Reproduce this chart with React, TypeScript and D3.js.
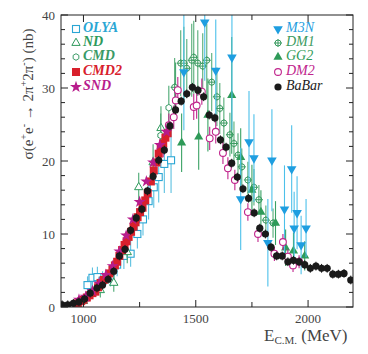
import * as d3 from "d3";

// --- data (E in MeV, sigma in nb) ---
const olyaE = [1018, 1040, 1062, 1085, 1120, 1150, 1180, 1210, 1240, 1265, 1290, 1313, 1335, 1360, 1390];
const olyaS = [3.0, 4.0, 4.1, 3.6, 4.3, 5.8, 7.0, 7.3, 10.0, 12.0, 14.5, 16.4, 17.8, 19.6, 20.1];
const olyaErr = [1.2, 1.4, 1.4, 1.3, 1.5, 1.6, 1.8, 1.8, 2.0, 2.2, 2.5, 2.8, 3.5, 4.0, 4.5];

const ndE = [1000, 1075, 1135, 1195, 1246, 1310, 1345];
const ndS = [0.8, 2.3, 3.3, 7.5, 16.4, 19.8, 24.5];
const ndErr = [0.6, 1.0, 1.2, 1.5, 2.0, 2.5, 3.0];

const cmdE = [1344, 1380, 1410];
const cmdS = [23.5, 27.3, 30.0];
const cmdErr = [3.0, 3.0, 3.5];

const cmd2E = [975, 990, 1000, 1015, 1027, 1040, 1053, 1065, 1076, 1090, 1103, 1115, 1129, 1140, 1150, 1160, 1172, 1183, 1192, 1201, 1212, 1223, 1232, 1241, 1252, 1263, 1275, 1286, 1300, 1313, 1325, 1335, 1344, 1355, 1365, 1375];
const cmd2S = [0.5, 0.8, 1.0, 1.3, 1.6, 1.9, 2.1, 2.7, 3.3, 3.7, 4.1, 4.6, 5.1, 5.7, 6.2, 7.0, 7.8, 8.5, 9.0, 9.6, 10.3, 11.0, 11.6, 12.3, 13.0, 13.6, 14.6, 15.6, 17.2, 18.7, 19.8, 21.0, 21.8, 22.4, 23.2, 23.8];

const sndE = [980, 1010, 1040, 1070, 1100, 1130, 1160, 1190, 1220, 1250, 1280, 1310, 1340, 1370];
const sndS = [1.0, 1.4, 2.2, 3.2, 4.4, 5.6, 7.6, 9.8, 12.0, 14.4, 17.2, 19.8, 22.2, 24.0];

const m3nE = [1447, 1540, 1589, 1661, 1700, 1737, 1759, 1821, 1839, 1895, 1927, 1938, 1951, 1969, 1991];
const m3nS = [32.2, 39.0, 32.4, 34.2, 14.8, 22.6, 20.4, 8.8, 20.1, 13.4, 18.9, 10.8, 12.9, 8.5, 10.8];
const m3nErr = [8, 8, 7, 10, 7, 7, 6, 6, 7, 6, 6, 5, 5, 4, 4];

const dm1E = [1406, 1433, 1447, 1460, 1482, 1491, 1509, 1531, 1549, 1571, 1594, 1607, 1625, 1652, 1670, 1688, 1705, 1732, 1759, 1781, 1812, 1844];
const dm1S = [30.1, 33.4, 33.4, 32.7, 33.8, 34.2, 33.4, 33.0, 33.8, 30.8, 28.8, 27.2, 25.2, 23.6, 22.4, 20.8, 19.2, 17.4, 16.4, 14.7, 11.9, 11.5];
const dm1Err = [4, 4.5, 5, 4, 5, 5, 4.5, 4.5, 5, 4, 4, 3.5, 3.5, 3, 3, 3, 2.5, 2.5, 2.5, 2, 2, 2];

const gg2E = [1437, 1513, 1554, 1660, 1700, 1750, 1790, 1855, 1900, 1935, 1985];
const gg2S = [22.5, 23.3, 26.3, 29.0, 20.5, 16.0, 13.0, 11.5, 8.1, 7.7, 7.0];
const gg2Err = [4, 4.5, 5, 8, 4, 3.5, 3, 3, 2.5, 2.5, 2];

const dm2E = [1355, 1380, 1402, 1411, 1420, 1491, 1504, 1527, 1562, 1589, 1621, 1643, 1674, 1732, 1777, 1850, 1888, 1910, 1933, 1960];
const dm2S = [22.0, 24.9, 26.0, 28.3, 29.7, 27.4, 27.6, 29.5, 23.1, 24.0, 21.1, 19.0, 17.4, 13.0, 10.0, 7.3, 8.9, 6.9, 5.7, 6.2];
const dm2Err = [1.5, 1.6, 1.6, 1.7, 1.8, 1.8, 1.8, 1.8, 1.6, 1.6, 1.5, 1.5, 1.4, 1.2, 1.1, 1.0, 1.1, 1.0, 0.9, 0.9];

const babarE = [905, 930, 955, 980, 1005, 1030, 1060, 1085, 1110, 1135, 1160, 1185, 1210, 1235, 1260, 1285, 1310, 1335, 1360, 1385, 1410, 1435, 1460, 1485, 1510, 1535, 1560, 1585, 1610, 1635, 1660, 1685, 1710, 1735, 1760, 1785, 1810, 1835, 1860, 1885, 1910, 1935, 1960, 1985, 2010, 2035, 2060, 2085, 2110, 2135, 2160, 2190];
const babarS = [0.3, 0.3, 0.5, 0.7, 1.1, 1.9, 2.6, 3.0, 3.8, 4.9, 7.0, 7.9, 10.5, 12.2, 13.4, 15.9, 17.9, 20.1, 21.5, 24.8, 27.0, 28.2, 29.2, 30.1, 29.7, 28.8, 26.3, 25.9, 22.9, 21.9, 19.7, 17.8, 16.2, 14.9, 12.9, 10.8, 10.0, 8.2, 7.0, 7.0, 6.2, 6.4, 6.2, 5.8, 5.3, 5.6, 5.3, 5.3, 4.5, 4.5, 4.6, 3.7];

const xTicks = [1000, 1250, 1500, 1750, 2000];
const xLabels = [1000, 1500, 2000];
const yLabels = [0, 10, 20, 30, 40];

const x = d3.scaleLinear().domain([900, 2200]).range([61, 353]);
const y = d3.scaleLinear().domain([0, 40]).range([307, 15]);

const serif = "Liberation Serif, DejaVu Serif, serif";

type Kind = "square" | "triUp" | "hex" | "fillSquare" | "star" | "triDown" | "circCross" | "fillTri" | "circle" | "dot";

function Marker({ kind, cx, cy, color }: { kind: Kind; cx: number; cy: number; color: string }) {
  const t = `translate(${cx},${cy})`;
  switch (kind) {
    case "square":
      return <rect x={cx - 3.5} y={cy - 3.5} width={7} height={7} fill="white" stroke={color} strokeWidth={1.1} />;
    case "fillSquare":
      return <rect x={cx - 4} y={cy - 4} width={8} height={8} fill={color} />;
    case "triUp":
      return <path transform={t} d={d3.symbol(d3.symbolTriangle, 30)()!} fill="white" stroke={color} strokeWidth={1} />;
    case "fillTri":
      return <path transform={t} d={d3.symbol(d3.symbolTriangle, 36)()!} fill={color} />;
    case "triDown":
      return <path transform={`${t} rotate(180)`} d={d3.symbol(d3.symbolTriangle, 40)()!} fill={color} />;
    case "star":
      return <path transform={t} d={d3.symbol(d3.symbolStar, 45)()!} fill={color} />;
    case "hex": {
      const pts = d3.range(6).map((i) => {
        const a = (Math.PI / 3) * i + Math.PI / 6;
        return `${3.3 * Math.cos(a)},${3.3 * Math.sin(a)}`;
      });
      return <polygon transform={t} points={pts.join(" ")} fill="white" stroke={color} strokeWidth={1} />;
    }
    case "circCross":
      return (
        <g transform={t} stroke={color} strokeWidth={1}>
          <circle r={3} fill="white" />
          <line x1={-4} x2={4} y1={0} y2={0} />
          <line x1={0} x2={0} y1={-4} y2={4} />
        </g>
      );
    case "circle":
      return <circle cx={cx} cy={cy} r={3.4} fill="white" stroke={color} strokeWidth={1.1} />;
    case "dot":
      return <circle cx={cx} cy={cy} r={3.6} fill={color} />;
  }
}

interface Series {
  name: string;
  E: number[];
  S: number[];
  err?: number[];
  color: string;
  barColor: string;
  kind: Kind;
}

const series: Series[] = [
  { name: "OLYA", E: olyaE, S: olyaS, err: olyaErr, color: "#2aa6d4", barColor: "#5cc0e0", kind: "square" },
  { name: "ND", E: ndE, S: ndS, err: ndErr, color: "#2e9a5c", barColor: "#4aa872", kind: "triUp" },
  { name: "CMD", E: cmdE, S: cmdS, err: cmdErr, color: "#3a9a66", barColor: "#4aa872", kind: "hex" },
  { name: "DM1", E: dm1E, S: dm1S, err: dm1Err, color: "#3a9a60", barColor: "#56ad78", kind: "circCross" },
  { name: "GG2", E: gg2E, S: gg2S, err: gg2Err, color: "#2e9a58", barColor: "#3aa264", kind: "fillTri" },
  { name: "M3N", E: m3nE, S: m3nS, err: m3nErr, color: "#1e9ee0", barColor: "#4cc0ea", kind: "triDown" },
  { name: "DM2", E: dm2E, S: dm2S, err: dm2Err, color: "#c0248c", barColor: "#c0248c", kind: "circle" },
  { name: "CMD2", E: cmd2E, S: cmd2S, color: "#d8202c", barColor: "#d8202c", kind: "fillSquare" },
  { name: "SND", E: sndE, S: sndS, color: "#b81c8c", barColor: "#b81c8c", kind: "star" },
  { name: "BaBar", E: babarE, S: babarS, color: "#1a1a1a", barColor: "#1a1a1a", kind: "dot" },
];

const byName = (n: string) => series.find((s) => s.name === n)!;

const leftLegend = ["OLYA", "ND", "CMD", "CMD2", "SND"];
const rightLegend = ["M3N", "DM1", "GG2", "DM2", "BaBar"];
const legendRows = [27, 41, 55, 70, 85];

export default function App() {
  const minorY = d3.range(0, 41, 2);
  return (
    <svg width={368} height={354} style={{ position: "absolute", left: 0, top: 0, background: "white" }}>
      <defs>
        <clipPath id="plot">
          <rect x={61} y={15} width={292} height={292} />
        </clipPath>
      </defs>

      <g clipPath="url(#plot)">
        {series.map((s) => (
          <g key={s.name}>
            {s.err &&
              s.E.map((e, i) => (
                <line
                  key={"e" + i}
                  x1={x(e)}
                  x2={x(e)}
                  y1={y(s.S[i] - s.err![i])}
                  y2={y(s.S[i] + s.err![i])}
                  stroke={s.barColor}
                  strokeWidth={1.1}
                />
              ))}
            {s.name === "BaBar" &&
              s.E.map((e, i) => (
                <line key={"b" + i} x1={x(e)} x2={x(e)} y1={y(s.S[i] - 0.6)} y2={y(s.S[i] + 0.6)} stroke={s.color} strokeWidth={1} />
              ))}
            {s.E.map((e, i) => (
              <Marker key={i} kind={s.kind} cx={x(e)} cy={y(s.S[i])} color={s.color} />
            ))}
          </g>
        ))}
      </g>

      {/* frame */}
      <rect x={61} y={15} width={292} height={292} fill="none" stroke="#222" strokeWidth={1} />

      {/* y ticks */}
      {minorY.map((v) => {
        const len = v % 10 === 0 ? 7 : 4;
        return (
          <g key={v} stroke="#222" strokeWidth={1}>
            <line x1={61} x2={61 + len} y1={y(v)} y2={y(v)} />
            <line x1={353} x2={353 - len} y1={y(v)} y2={y(v)} />
          </g>
        );
      })}
      {/* x ticks */}
      {xTicks.map((v) => {
        const len = v % 500 === 0 ? 7 : 5;
        return (
          <g key={v} stroke="#222" strokeWidth={1}>
            <line x1={x(v)} x2={x(v)} y1={307} y2={307 - len} />
            <line x1={x(v)} x2={x(v)} y1={15} y2={15 + len} />
          </g>
        );
      })}

      {yLabels.map((v) => (
        <text key={v} x={55} y={y(v) + 4.5} textAnchor="end" fontFamily={serif} fontSize={13} fill="#444">
          {v}
        </text>
      ))}
      {xLabels.map((v) => (
        <text key={v} x={x(v)} y={323} textAnchor="middle" fontFamily={serif} fontSize={13} fill="#444">
          {v}
        </text>
      ))}

      {/* axis titles */}
      <text x={264} y={341} fontFamily={serif} fontSize={17} fill="#444">
        E<tspan fontSize={11} dy={3}>C.M.</tspan>
        <tspan dy={-3}> (MeV)</tspan>
      </text>
      <text transform="translate(33,94) rotate(-90)" textAnchor="middle" fontFamily={serif} fontSize={15} fill="#444">
        σ(e<tspan fontSize={10} dy={-6}>+</tspan>
        <tspan dy={6}>e</tspan>
        <tspan fontSize={10} dy={-6}>-</tspan>
        <tspan dy={6}> → 2π</tspan>
        <tspan fontSize={10} dy={-6}>+</tspan>
        <tspan dy={6}>2π</tspan>
        <tspan fontSize={10} dy={-6}>-</tspan>
        <tspan dy={6}>) (nb)</tspan>
      </text>

      {/* legends */}
      {leftLegend.map((n, i) => {
        const s = byName(n);
        const ry = legendRows[i];
        return (
          <g key={n}>
            <Marker kind={s.kind} cx={76} cy={ry + 2} color={s.color} />
            <text x={83} y={ry + 5} fontFamily={serif} fontSize={14} fontStyle="italic" fontWeight="bold" fill={s.color}>
              {n}
            </text>
          </g>
        );
      })}
      {rightLegend.map((n, i) => {
        const s = byName(n);
        const ry = legendRows[i];
        return (
          <g key={n}>
            <Marker kind={s.kind} cx={278} cy={ry + 2} color={s.color} />
            <text x={286} y={ry + 5} fontFamily={serif} fontSize={14} fontStyle="italic" fill={s.color === "#1a1a1a" ? "#222" : s.color}>
              {n}
            </text>
          </g>
        );
      })}
    </svg>
  );
}
